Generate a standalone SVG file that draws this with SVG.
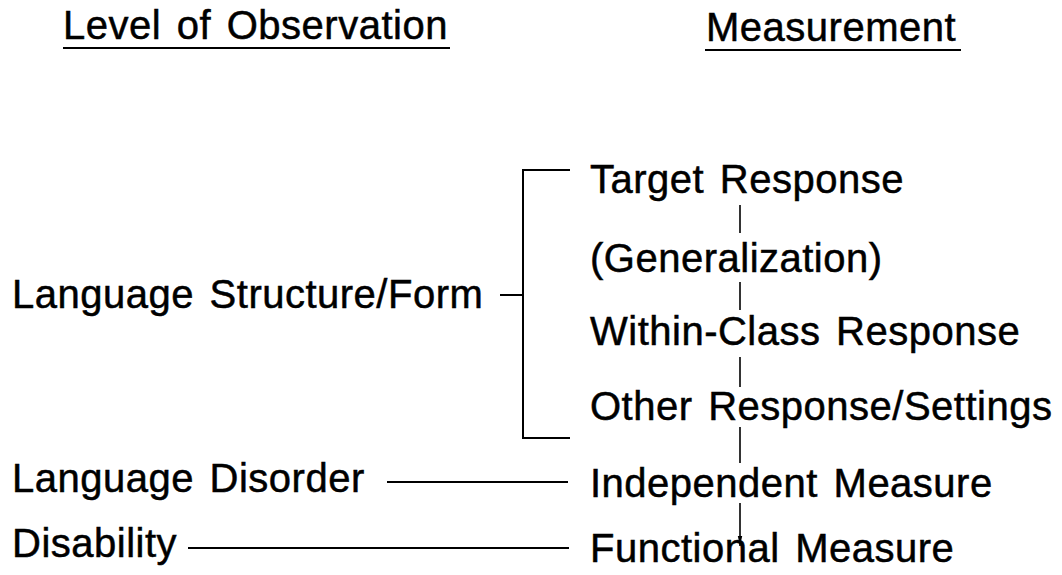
<svg xmlns="http://www.w3.org/2000/svg" width="1062" height="575" viewBox="0 0 1062 575">
  <style>
    text { font-family: "Liberation Sans", Arial, sans-serif; font-size: 40px; fill: #000; stroke: #000; stroke-width: 0.5px; letter-spacing: 0.5px; word-spacing: 4px; }
    .ln { stroke: #000; stroke-width: 2; fill: none; }
    .dl { stroke: #000; stroke-width: 1.6; fill: none; }
  </style>
  <defs>
    <marker id="arr" viewBox="0 0 10 6" refX="10" refY="3" markerWidth="10" markerHeight="6" markerUnits="userSpaceOnUse" orient="auto">
      <path d="M0,0.8 L10,3 L0,5.2 Z" fill="#000"/>
    </marker>
  </defs>
  <rect width="1062" height="575" fill="#fff"/>

  <g id="header-level">
    <text x="63" y="39">Level of Observation</text>
    <line class="ln" x1="63" y1="48" x2="450" y2="48"/>
  </g>
  <g id="header-measurement">
    <text x="706" y="41">Measurement</text>
    <line class="ln" x1="705" y1="50" x2="961" y2="50"/>
  </g>

  <g id="node-structure"><text x="12" y="308">Language Structure/Form</text></g>
  <g id="node-disorder"><text x="12" y="492">Language Disorder</text></g>
  <g id="node-disability"><text x="12" y="557">Disability</text></g>

  <g id="node-target"><text x="590" y="193">Target Response</text></g>
  <g id="node-generalization"><text x="590" y="272">(Generalization)</text></g>
  <g id="node-within"><text x="590" y="345">Within-Class Response</text></g>
  <g id="node-other"><text x="590" y="420">Other Response/Settings</text></g>
  <g id="node-independent"><text x="590" y="497">Independent Measure</text></g>
  <g id="node-functional"><text x="590" y="562">Functional Measure</text></g>

  <g id="connectors">
    <path class="ln" d="M570,170 H523 V438 H570"/>
    <line class="ln" x1="500" y1="295" x2="523" y2="295"/>
    <line class="ln" x1="387" y1="482" x2="568" y2="482"/>
    <line class="ln" x1="188" y1="548" x2="569" y2="548"/>
    <line class="dl" x1="740" y1="205" x2="740" y2="233"/>
    <line class="dl" x1="740" y1="282" x2="740" y2="310"/>
    <line class="dl" x1="740" y1="357" x2="740" y2="387"/>
    <line class="dl" x1="740" y1="427" x2="740" y2="463"/>
    <line class="dl" x1="740" y1="503" x2="740" y2="546" marker-end="url(#arr)"/>
  </g>
</svg>
